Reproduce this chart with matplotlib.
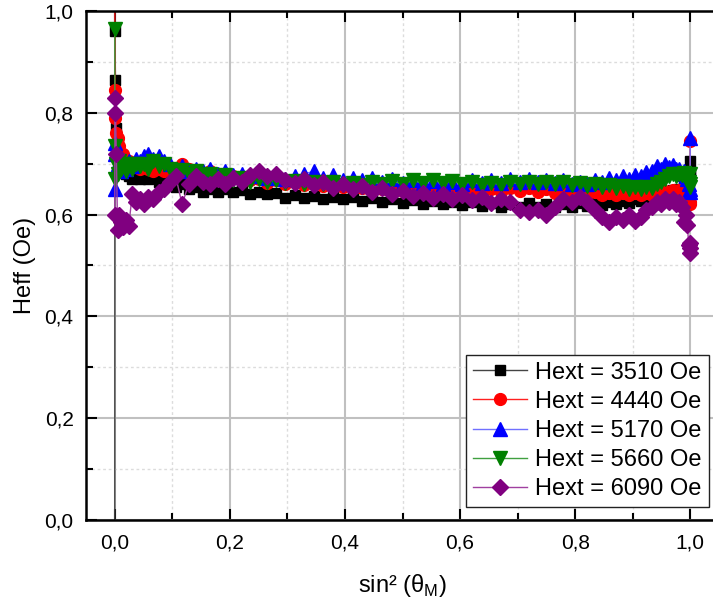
import matplotlib as ml
ml.use("Agg")
import matplotlib.pyplot as plt
from matplotlib.ticker import MultipleLocator, FuncFormatter

plt.rcParams['font.family'] = ['Liberation Sans', 'DejaVu Sans']

# sin^2(theta_M), 1 degree steps from 0 to 90
sin2 = [0.0, 0.0003, 0.0012, 0.0027, 0.0049, 0.0076, 0.0109, 0.0149, 0.0194, 0.0245,
        0.0302, 0.0364, 0.0432, 0.0506, 0.0585, 0.0670, 0.0760, 0.0855, 0.0955, 0.1060,
        0.1170, 0.1284, 0.1403, 0.1527, 0.1654, 0.1786, 0.1922, 0.2061, 0.2204, 0.2350,
        0.25, 0.2653, 0.2808, 0.2966, 0.3127, 0.3290, 0.3455, 0.3622, 0.3790, 0.3960,
        0.4132, 0.4304, 0.4477, 0.4651, 0.4826, 0.5, 0.5174, 0.5349, 0.5523, 0.5696,
        0.5868, 0.6040, 0.6210, 0.6378, 0.6545, 0.6710, 0.6873, 0.7034, 0.7192, 0.7347,
        0.75, 0.7650, 0.7796, 0.7939, 0.8078, 0.8214, 0.8346, 0.8473, 0.8597, 0.8716,
        0.8830, 0.8940, 0.9045, 0.9145, 0.9240, 0.9330, 0.9415, 0.9494, 0.9568, 0.9636,
        0.9698, 0.9755, 0.9806, 0.9851, 0.9891, 0.9924, 0.9951, 0.9973, 0.9988, 0.9997,
        1.0]

heff_3510 = [-0.05, 0.96, 0.865, 0.77, 0.74, 0.71, 0.695, 0.685, 0.68, 0.675,
             0.67, 0.675, 0.67, 0.675, 0.67, 0.672, 0.665, 0.668, 0.66, 0.655,
             0.66, 0.65, 0.655, 0.645, 0.65, 0.645, 0.65, 0.645, 0.648, 0.64,
             0.645, 0.64, 0.643, 0.633, 0.638, 0.632, 0.637, 0.63, 0.635, 0.63,
             0.634, 0.627, 0.632, 0.625, 0.63, 0.623, 0.628, 0.62, 0.626, 0.62,
             0.625, 0.618, 0.624, 0.616, 0.622, 0.615, 0.621, 0.615, 0.622, 0.615,
             0.62, 0.615, 0.621, 0.615, 0.622, 0.617, 0.623, 0.618, 0.625, 0.62,
             0.627, 0.623, 0.63, 0.627, 0.634, 0.637, 0.642, 0.638, 0.645, 0.64,
             0.648, 0.643, 0.65, 0.645, 0.655, 0.65, 0.66, 0.665, 0.675, 0.685,
             0.705]

heff_4440 = [1.2, 0.845, 0.79, 0.76, 0.75, 0.735, 0.71, 0.72, 0.70, 0.705,
             0.695, 0.70, 0.69, 0.695, 0.69, 0.685, 0.69, 0.685, 0.69, 0.685,
             0.70, 0.69, 0.685, 0.68, 0.685, 0.678, 0.68, 0.675, 0.672, 0.668,
             0.67, 0.663, 0.667, 0.66, 0.664, 0.658, 0.662, 0.656, 0.66, 0.654,
             0.658, 0.652, 0.657, 0.65, 0.655, 0.647, 0.652, 0.645, 0.65, 0.643,
             0.648, 0.642, 0.648, 0.643, 0.65, 0.645, 0.652, 0.647, 0.652, 0.645,
             0.65, 0.643, 0.648, 0.641, 0.646, 0.64, 0.644, 0.638, 0.643, 0.638,
             0.643, 0.638, 0.642, 0.638, 0.643, 0.638, 0.643, 0.64, 0.646, 0.643,
             0.648, 0.643, 0.648, 0.643, 0.648, 0.643, 0.64, 0.635, 0.625, 0.62,
             0.745]

heff_5170 = [0.65, 0.74, 0.72, 0.73, 0.70, 0.705, 0.685, 0.70, 0.69, 0.705,
             0.695, 0.71, 0.705, 0.715, 0.72, 0.71, 0.715, 0.705, 0.70, 0.69,
             0.695, 0.685, 0.69, 0.685, 0.69, 0.68, 0.685, 0.678, 0.68, 0.675,
             0.68, 0.672, 0.676, 0.67, 0.675, 0.68, 0.685, 0.672, 0.677, 0.668,
             0.672, 0.667, 0.672, 0.665, 0.67, 0.663, 0.668, 0.662, 0.666, 0.66,
             0.665, 0.66, 0.668, 0.662, 0.668, 0.662, 0.67, 0.664, 0.67, 0.664,
             0.668, 0.662, 0.667, 0.66, 0.665, 0.66, 0.668, 0.665, 0.672, 0.668,
             0.675, 0.67, 0.678, 0.675, 0.683, 0.685, 0.695, 0.69, 0.70, 0.693,
             0.698, 0.69, 0.69, 0.68, 0.685, 0.675, 0.67, 0.66, 0.65, 0.645,
             0.75]

heff_5660 = [0.965, 0.67, 0.735, 0.70, 0.68, 0.705, 0.69, 0.70, 0.685, 0.70,
             0.69, 0.70, 0.695, 0.70, 0.69, 0.705, 0.695, 0.70, 0.69, 0.685,
             0.688, 0.68, 0.685, 0.678, 0.68, 0.672, 0.677, 0.668, 0.672, 0.665,
             0.67, 0.664, 0.668, 0.662, 0.666, 0.66, 0.664, 0.66, 0.664, 0.658,
             0.663, 0.658, 0.664, 0.66, 0.666, 0.66, 0.667, 0.662, 0.668, 0.662,
             0.666, 0.66, 0.665, 0.658, 0.663, 0.658, 0.664, 0.66, 0.665, 0.66,
             0.665, 0.66, 0.664, 0.658, 0.662, 0.656, 0.66, 0.655, 0.658, 0.652,
             0.656, 0.65, 0.655, 0.65, 0.655, 0.652, 0.66, 0.665, 0.67, 0.675,
             0.68, 0.675, 0.68, 0.677, 0.682, 0.678, 0.675, 0.665, 0.66, 0.655,
             0.68]

heff_6090 = [0.60, 0.83, 0.80, 0.72, 0.57, 0.60, 0.585, 0.575, 0.59, 0.578,
             0.64, 0.625, 0.63, 0.62, 0.635, 0.63, 0.645, 0.65, 0.665, 0.675,
             0.62, 0.66, 0.675, 0.665, 0.66, 0.67, 0.66, 0.672, 0.665, 0.678,
             0.685, 0.675, 0.68, 0.668, 0.662, 0.67, 0.658, 0.664, 0.652, 0.66,
             0.65, 0.656, 0.645, 0.652, 0.64, 0.647, 0.636, 0.643, 0.632, 0.64,
             0.63, 0.638, 0.628, 0.635, 0.622, 0.63, 0.624, 0.61, 0.605, 0.61,
             0.60, 0.615, 0.63, 0.625, 0.635, 0.625, 0.61, 0.595, 0.585, 0.595,
             0.59, 0.60, 0.588, 0.595, 0.61, 0.615, 0.625, 0.62, 0.63, 0.625,
             0.63, 0.62, 0.625, 0.615, 0.585, 0.60, 0.58, 0.54, 0.545, 0.535,
             0.525]

labels = ['Hext = 3510 Oe', 'Hext = 4440 Oe', 'Hext = 5170 Oe',
          'Hext = 5660 Oe', 'Hext = 6090 Oe']

series = [heff_3510, heff_4440, heff_5170, heff_5660, heff_6090]
marker_colors = ['#000000', '#ff0000', '#0000ff', '#008000', '#800080']
line_colors = ['#444444', '#ff2020', '#7070ff', '#40a040', '#a040a0']
markers = ['s', 'o', '^', 'v', 'D']
msizes = [7.5, 8.5, 9.5, 9.5, 8]

fig = plt.figure(figsize=(7.13, 6.08), dpi=100)
ax = fig.add_axes([86 / 713, 1 - 520 / 608, 633 / 713, 509 / 608])

for y, lab, mc, lc, mk, ms in zip(series, labels, marker_colors, line_colors, markers, msizes):
    ax.plot(sin2, y, color=lc, lw=1.0, marker=mk, ms=ms,
            markerfacecolor=mc, markeredgecolor=mc, label=lab)

ax.set_xlim(-0.05, 1.05)
ax.set_ylim(0.0, 1.0)

ax.xaxis.set_major_locator(MultipleLocator(0.2))
ax.xaxis.set_minor_locator(MultipleLocator(0.1))
ax.yaxis.set_major_locator(MultipleLocator(0.2))
ax.yaxis.set_minor_locator(MultipleLocator(0.1))
comma = FuncFormatter(lambda v, p: ('%.1f' % v).replace('.', ','))
ax.xaxis.set_major_formatter(comma)
ax.yaxis.set_major_formatter(comma)

ax.grid(which='major', color='#c0c0c0', lw=1.5, ls='-', zorder=0)
ax.grid(which='minor', color='#dcdcdc', lw=1.0, ls=(0, (2, 2)), zorder=0)
ax.set_axisbelow(True)

ax.tick_params(which='both', direction='in', top=True, right=False,
               labelsize=15, width=1.5)
ax.tick_params(axis='x', which='both', pad=10)
ax.tick_params(axis='y', which='both', pad=9)
ax.tick_params(which='major', length=8)
ax.tick_params(which='minor', length=5)
for s in ax.spines.values():
    s.set_linewidth(1.8)

ax.set_xlabel(r'sin² (θ$_\mathregular{M}$)', fontsize=17, labelpad=14)
ax.set_ylabel('Heff (Oe)', fontsize=17, labelpad=6)

leg = ax.legend(loc='lower right', bbox_to_anchor=(0.984, 0.0255), borderaxespad=0,
                fontsize=17, fancybox=False, framealpha=1, edgecolor='#222222',
                handlelength=2.3, handletextpad=0.35, labelspacing=0.3,
                borderpad=0.3)
leg.get_frame().set_linewidth(1.0)

fig.savefig('out.png', dpi=100)
